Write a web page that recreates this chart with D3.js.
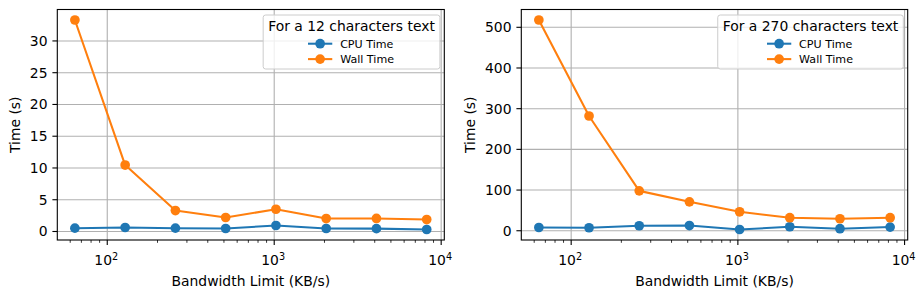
<!DOCTYPE html>
<html>
<head>
<meta charset="utf-8">
<script src="https://cdn.jsdelivr.net/npm/d3@7"></script>
<style>
    body { margin: 0; background: #fff; }
    text { font-family: "DejaVu Sans", sans-serif; fill: #000; }
</style>
</head>
<body>
<div id="chart"></div>
<script>
// data
const bandwidth = [64, 128, 256, 512, 1024, 2048, 4096, 8192];
const cpuTime12 = [0.52, 0.63, 0.52, 0.47, 0.94, 0.47, 0.45, 0.31];
const wallTime12 = [33.3, 10.46, 3.3, 2.2, 3.5, 2.04, 2.05, 1.88];
const cpuTime270 = [8, 7.4, 12.3, 12.8, 3, 9.8, 5, 9];
const wallTime270 = [518, 282, 98, 71, 46.6, 32, 29.5, 32];
const yTicks12 = [0, 5, 10, 15, 20, 25, 30];
const yTicks270 = [0, 100, 200, 300, 400, 500];
const xTicks = [100, 1000, 10000];
const seriesNames = ["CPU Time", "Wall Time"];
const colors = ["#1f77b4", "#ff7f0e"];

const width = 922, height = 293;
const svg = d3.select("#chart").append("svg")
    .attr("width", width)
    .attr("height", height);
svg.append("rect").attr("width", width).attr("height", height).attr("fill", "#fff");

renderPanel({ left: 57.3, right: 444.3, top: 9.5, bottom: 240 },
    [cpuTime12, wallTime12], yTicks12, "For a 12 characters text");
renderPanel({ left: 521.3, right: 907.7, top: 9.5, bottom: 240 },
    [cpuTime270, wallTime270], yTicks270, "For a 270 characters text");

function renderPanel(box, series, yTicks, legendTitle) {
    const g = svg.append("g");

    // x scale: log with 5% margins in log space
    const lx0 = Math.log10(d3.min(bandwidth)), lx1 = Math.log10(d3.max(bandwidth));
    const mx = (lx1 - lx0) * 0.05;
    const xScale = d3.scaleLog()
        .domain([Math.pow(10, lx0 - mx), Math.pow(10, lx1 + mx)])
        .range([box.left, box.right]);

    const allY = series.flat();
    const y0 = d3.min(allY), y1 = d3.max(allY);
    const my = (y1 - y0) * 0.05;
    const yScale = d3.scaleLinear()
        .domain([y0 - my, y1 + my])
        .range([box.bottom, box.top]);

    // grid
    g.selectAll(".xgrid").data(xTicks.filter(d => xScale(d) <= box.right))
        .join("line")
        .attr("x1", d => xScale(d)).attr("x2", d => xScale(d))
        .attr("y1", box.top).attr("y2", box.bottom)
        .attr("stroke", "#b0b0b0").attr("stroke-width", 1.1);
    g.selectAll(".ygrid").data(yTicks)
        .join("line")
        .attr("x1", box.left).attr("x2", box.right)
        .attr("y1", d => yScale(d)).attr("y2", d => yScale(d))
        .attr("stroke", "#b0b0b0").attr("stroke-width", 1.1);

    // minor x ticks
    const minor = [];
    for (let e = 1; e <= 4; e++) {
        for (let k = 2; k <= 9; k++) {
            const v = k * Math.pow(10, e);
            if (v >= xScale.domain()[0] && v <= xScale.domain()[1]) minor.push(v);
        }
    }
    g.selectAll(".minor").data(minor)
        .join("line")
        .attr("x1", d => xScale(d)).attr("x2", d => xScale(d))
        .attr("y1", box.bottom).attr("y2", box.bottom + 2.8)
        .attr("stroke", "#000").attr("stroke-width", 0.8);

    // major x ticks + labels
    const majors = xTicks.filter(d => xScale(d) <= box.right + 0.5);
    g.selectAll(".major").data(majors)
        .join("line")
        .attr("x1", d => xScale(d)).attr("x2", d => xScale(d))
        .attr("y1", box.bottom).attr("y2", box.bottom + 4.9)
        .attr("stroke", "#000").attr("stroke-width", 1.1);
    const xl = g.selectAll(".xlabel").data(majors)
        .join("text")
        .attr("x", d => xScale(d) - 1)
        .attr("y", box.bottom + 25)
        .attr("text-anchor", "middle")
        .style("font-size", "13.9px");
    xl.append("tspan").text("10");
    xl.append("tspan")
        .attr("dy", -5.5)
        .style("font-size", "9.7px")
        .text(d => Math.round(Math.log10(d)));

    // y ticks + labels
    g.selectAll(".ytick").data(yTicks)
        .join("line")
        .attr("x1", box.left - 4.9).attr("x2", box.left)
        .attr("y1", d => yScale(d)).attr("y2", d => yScale(d))
        .attr("stroke", "#000").attr("stroke-width", 1.1);
    const yl = g.selectAll(".ylabel").data(yTicks)
        .join("text")
        .attr("x", box.left - 9.8)
        .attr("y", d => yScale(d))
        .attr("dy", "0.36em")
        .attr("text-anchor", "end")
        .style("font-size", "13.9px")
        .text(d => d);

    // axis titles
    let minX = box.left;
    yl.each(function () { minX = Math.min(minX, this.getBBox().x); });
    g.append("text")
        .attr("transform", `translate(${minX - 5.6 - 4}, ${(box.top + box.bottom) / 2}) rotate(-90)`)
        .attr("text-anchor", "middle")
        .style("font-size", "13.9px")
        .text("Time (s)");
    g.append("text")
        .attr("x", (box.left + box.right) / 2)
        .attr("y", 286)
        .attr("text-anchor", "middle")
        .style("font-size", "13.9px")
        .text("Bandwidth Limit (KB/s)");

    // lines and markers
    series.forEach(function (values, i) {
        const pts = bandwidth.map((b, j) => [b, values[j]]);
        g.append("path")
            .datum(pts)
            .attr("fill", "none")
            .attr("stroke", colors[i])
            .attr("stroke-width", 2.08)
            .attr("stroke-linejoin", "round")
            .attr("d", d3.line()
                .x(d => xScale(d[0]))
                .y(d => yScale(d[1])));
        g.selectAll(".pt" + i).data(pts)
            .join("circle")
            .attr("cx", d => xScale(d[0]))
            .attr("cy", d => yScale(d[1]))
            .attr("r", 4.85)
            .attr("fill", colors[i]);
    });

    // spines
    g.append("rect")
        .attr("x", box.left).attr("y", box.top)
        .attr("width", box.right - box.left).attr("height", box.bottom - box.top)
        .attr("fill", "none").attr("stroke", "#000").attr("stroke-width", 1.1);

    // legend
    const lg = g.append("g");
    const frame = lg.append("rect");
    const title = lg.append("text")
        .attr("text-anchor", "middle")
        .style("font-size", "13.9px")
        .text(legendTitle);
    const titleW = title.node().getComputedTextLength();
    const boxW = titleW + 10;
    const bx = box.right - 4.4 - boxW, by = box.top + 5.5;
    frame.attr("x", bx).attr("y", by)
        .attr("width", boxW).attr("height", 54)
        .attr("rx", 2.5)
        .attr("fill", "#fff").attr("fill-opacity", 0.8)
        .attr("stroke", "#cccccc").attr("stroke-width", 1);
    title.attr("x", bx + boxW / 2).attr("y", by + 16);

    const labels = lg.selectAll(".entry").data(seriesNames)
        .join("text")
        .style("font-size", "11.1px")
        .text(d => d);
    let maxW = 0;
    labels.each(function () { maxW = Math.max(maxW, this.getComputedTextLength()); });
    const handleLen = 22.2, pad = 8.9;
    const start = bx + boxW / 2 - (handleLen + pad + maxW) / 2;
    seriesNames.forEach(function (name, i) {
        const cy = by + 28.7 + i * 15.4;
        lg.append("line")
            .attr("x1", start).attr("x2", start + handleLen)
            .attr("y1", cy).attr("y2", cy)
            .attr("stroke", colors[i]).attr("stroke-width", 2.08)
            .attr("stroke-linecap", "square");
        lg.append("circle")
            .attr("cx", start + handleLen / 2).attr("cy", cy)
            .attr("r", 4.85).attr("fill", colors[i]);
    });
    labels.attr("x", start + handleLen + pad)
        .attr("y", (d, i) => by + 28.7 + i * 15.4)
        .attr("dy", "0.36em");
}
</script>
</body>
</html>
